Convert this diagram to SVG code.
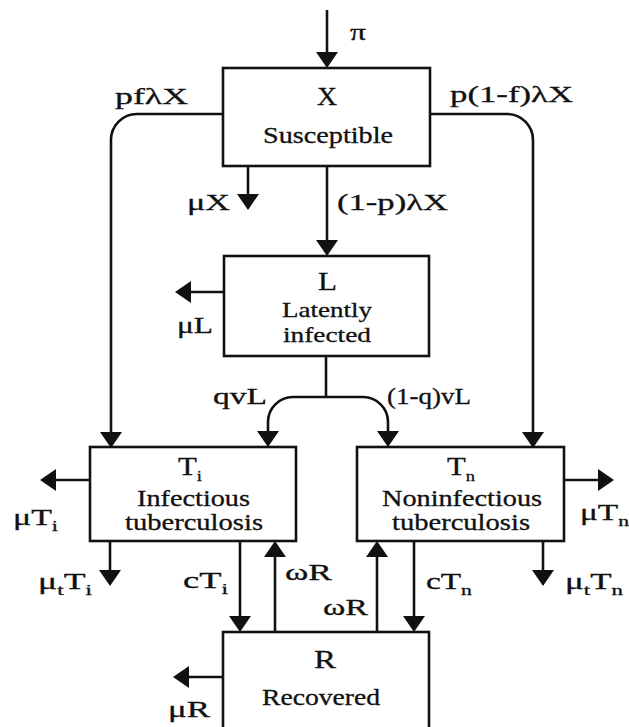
<svg xmlns="http://www.w3.org/2000/svg" width="629" height="727" viewBox="0 0 629 727" font-family="'Liberation Serif', 'Times New Roman', serif" font-size="23">
<style>
.bg{fill:#fff}
.box{fill:#fff;stroke:#111;stroke-width:2.6}
.ln{fill:none;stroke:#111;stroke-width:2.6}
.ar{marker-end:url(#ah)}
.tx{fill:#111;stroke:#111;stroke-width:0.3}
</style>
<defs>
<marker id="ah" markerUnits="userSpaceOnUse" markerWidth="16" markerHeight="22" viewBox="0 0 16 22" refX="13" refY="11" orient="auto">
<path d="M0,0 L16,11 L0,22 z" fill="#111"/>
</marker>
</defs>
<rect class="bg" x="0" y="0" width="629" height="727"/>
<g id="connectors">
<line class="ln ar" x1="327" y1="10" x2="327" y2="65"/>
<path class="ln ar" d="M223,114 H138 A26,26 0 0 0 111,141 V445"/>
<path class="ln ar" d="M430,114 H507 A26,26 0 0 1 533,140 V445"/>
<line class="ln ar" x1="248" y1="166" x2="248" y2="207"/>
<line class="ln ar" x1="327" y1="166" x2="327" y2="253"/>
<line class="ln ar" x1="224" y1="292" x2="178" y2="292"/>
<path class="ln" d="M326,356 V397"/>
<path class="ln ar" d="M326,397 H293 A25,25 0 0 0 268,422 V444"/>
<path class="ln ar" d="M326,397 H363 A25,25 0 0 1 388,422 V444"/>
<line class="ln ar" x1="90" y1="480" x2="43" y2="480"/>
<line class="ln ar" x1="110" y1="541" x2="110" y2="583"/>
<line class="ln ar" x1="240" y1="541" x2="240" y2="629"/>
<line class="ln ar" x1="275" y1="632" x2="275" y2="544"/>
<line class="ln ar" x1="377" y1="632" x2="377" y2="544"/>
<line class="ln ar" x1="414" y1="541" x2="414" y2="629"/>
<line class="ln ar" x1="543" y1="541" x2="543" y2="583"/>
<line class="ln ar" x1="564" y1="480" x2="611" y2="480"/>
<line class="ln ar" x1="223" y1="677" x2="176" y2="677"/>
</g>
<g id="labels" class="tx" font-family="'Liberation Serif', 'Times New Roman', serif" font-size="23">
<text x="350" y="40" textLength="16" lengthAdjust="spacingAndGlyphs">π</text>
<text x="115" y="104" textLength="73" lengthAdjust="spacingAndGlyphs">pfλX</text>
<text x="450" y="102" textLength="123" lengthAdjust="spacingAndGlyphs">p(1-f)λX</text>
<text x="187" y="210" textLength="43" lengthAdjust="spacingAndGlyphs">μX</text>
<text x="337" y="210" textLength="111" lengthAdjust="spacingAndGlyphs">(1-p)λX</text>
<text x="177" y="333" textLength="36" lengthAdjust="spacingAndGlyphs">μL</text>
<text x="213" y="404" textLength="54" lengthAdjust="spacingAndGlyphs">qvL</text>
<text x="387" y="404" textLength="84" lengthAdjust="spacingAndGlyphs">(1-q)vL</text>
<text x="13" y="525" textLength="45" lengthAdjust="spacingAndGlyphs">μT<tspan font-size="15" dy="6">i</tspan></text>
<text x="38" y="589" textLength="54" lengthAdjust="spacingAndGlyphs">μ<tspan font-size="15" dy="6">t</tspan><tspan dy="-6">T</tspan><tspan font-size="15" dy="6">i</tspan></text>
<text x="580" y="520" textLength="49" lengthAdjust="spacingAndGlyphs">μT<tspan font-size="15" dy="6">n</tspan></text>
<text x="565" y="589" textLength="58" lengthAdjust="spacingAndGlyphs">μ<tspan font-size="15" dy="6">t</tspan><tspan dy="-6">T</tspan><tspan font-size="15" dy="6">n</tspan></text>
<text x="183" y="588" textLength="45" lengthAdjust="spacingAndGlyphs">cT<tspan font-size="15" dy="6">i</tspan></text>
<text x="285" y="580" textLength="47" lengthAdjust="spacingAndGlyphs">ωR</text>
<text x="323" y="615" textLength="45" lengthAdjust="spacingAndGlyphs">ωR</text>
<text x="426" y="589" textLength="46" lengthAdjust="spacingAndGlyphs">cT<tspan font-size="15" dy="6">n</tspan></text>
<text x="168" y="717" textLength="42" lengthAdjust="spacingAndGlyphs">μR</text>
</g>
<g id="node-X" class="tx" font-family="'Liberation Serif', 'Times New Roman', serif" font-size="23">
<rect class="box" x="223" y="68" width="207" height="98"/>
<text x="317" y="105" font-size="25" textLength="20" lengthAdjust="spacingAndGlyphs">X</text>
<text x="263" y="143" textLength="130" lengthAdjust="spacingAndGlyphs">Susceptible</text>
</g>
<g id="node-L" class="tx" font-family="'Liberation Serif', 'Times New Roman', serif" font-size="23">
<rect class="box" x="224" y="256" width="205" height="100"/>
<text x="318" y="290" font-size="25" textLength="19" lengthAdjust="spacingAndGlyphs">L</text>
<text x="282" y="317" font-size="21" textLength="90" lengthAdjust="spacingAndGlyphs">Latently</text>
<text x="283" y="342" font-size="21" textLength="88" lengthAdjust="spacingAndGlyphs">infected</text>
</g>
<g id="node-Ti" class="tx" font-family="'Liberation Serif', 'Times New Roman', serif" font-size="23">
<rect class="box" x="90" y="447" width="206" height="94"/>
<text x="178" y="475" font-size="25" textLength="24" lengthAdjust="spacingAndGlyphs">T<tspan font-size="15" dy="6">i</tspan></text>
<text x="137" y="506" textLength="113" lengthAdjust="spacingAndGlyphs">Infectious</text>
<text x="125" y="530" textLength="138" lengthAdjust="spacingAndGlyphs">tuberculosis</text>
</g>
<g id="node-Tn" class="tx" font-family="'Liberation Serif', 'Times New Roman', serif" font-size="23">
<rect class="box" x="357" y="447" width="207" height="94"/>
<text x="447" y="475" font-size="25" textLength="28" lengthAdjust="spacingAndGlyphs">T<tspan font-size="15" dy="6">n</tspan></text>
<text x="382" y="506" textLength="160" lengthAdjust="spacingAndGlyphs">Noninfectious</text>
<text x="392" y="530" textLength="138" lengthAdjust="spacingAndGlyphs">tuberculosis</text>
</g>
<g id="node-R" class="tx" font-family="'Liberation Serif', 'Times New Roman', serif" font-size="23">
<rect class="box" x="223" y="632" width="206" height="110"/>
<text x="314" y="668" font-size="25" textLength="22" lengthAdjust="spacingAndGlyphs">R</text>
<text x="262" y="705" textLength="118" lengthAdjust="spacingAndGlyphs">Recovered</text>
</g>
</svg>
